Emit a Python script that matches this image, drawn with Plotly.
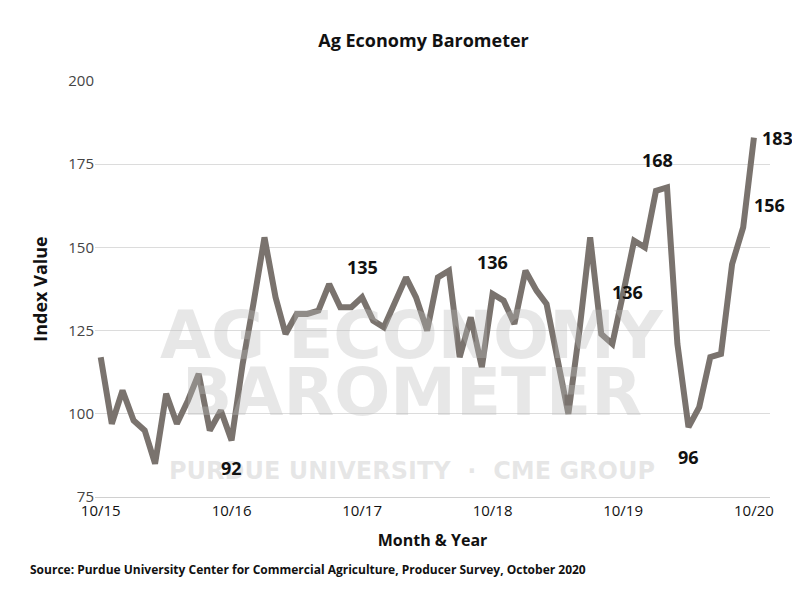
import pandas as pd
import plotly.graph_objects as go

# monthly index values, Oct 2015 - Oct 2020
months = pd.date_range("2015-10-01", "2020-10-01", freq="MS")
index_value = [117, 97, 107, 98, 95, 85, 106, 97, 104, 112, 95, 101,
               92, 115, 133, 153, 135, 124, 130, 130, 131, 139, 132, 132,
               135, 128, 126, 133, 141, 135, 125, 141, 143, 117, 129, 114,
               136, 134, 127, 143, 137, 133, 117, 100, 125, 153, 124, 121,
               136, 152, 150, 167, 168, 121, 96, 102, 117, 118, 145, 156,
               183]
tick_dates = pd.date_range("2015-10-01", "2020-10-01", freq="12MS")

# labelled points: (month index, text, x shift, y shift)
labels = [(12, "92", 0, -28), (24, "135", 0, 30), (36, "136", 0, 32),
          (48, "136", 4, 2), (52, "168", -10, 28), (54, "96", 0, -30),
          (59, "156", 26, 22), (60, "183", 24, 0)]

fig = go.Figure()
fig.add_trace(go.Scatter(x=months, y=index_value, mode="lines",
                         line=dict(color="#7a736e", width=6), hoverinfo="x+y"))

# watermark
for txt, yy, size in [("AG ECONOMY", 0.29, 66), ("BAROMETER", 0.155, 66),
                      ("PURDUE UNIVERSITY  ·  CME GROUP", 0.025, 24)]:
    fig.add_annotation(x=0.47, y=yy, xref="paper", yref="paper", text=txt,
                       showarrow=False, font=dict(size=size, color="rgba(185,185,185,0.35)",
                                                  family="DejaVu Sans", weight="bold"))

for i, txt, dx, dy in labels:
    fig.add_annotation(x=months[i], y=index_value[i], text=txt, showarrow=False,
                       xshift=dx, yshift=dy,
                       font=dict(size=18, color="#111", family="Open Sans", weight="bold"))

fig.add_annotation(x=-0.1, y=-0.2, xref="paper", yref="paper", xanchor="left",
                   text="Source: Purdue University Center for Commercial Agriculture, Producer Survey, October 2020",
                   showarrow=False, font=dict(size=12, color="#111", family="Open Sans", weight="bold"))

fig.update_layout(
    width=784, height=584, plot_bgcolor="white", paper_bgcolor="white",
    margin=dict(l=87, r=22, t=73, b=95),
    title=dict(text="Ag Economy Barometer", x=0.53, y=0.955,
               font=dict(size=18, color="#111", family="Open Sans", weight="bold")),
    showlegend=False,
    font=dict(family="Open Sans", color="#111"),
)
fig.update_xaxes(range=[pd.Timestamp("2015-09-15"), pd.Timestamp("2020-11-15")],
                 tickvals=tick_dates, tickformat="%m/%y", showgrid=False, automargin=False,
                 showline=True, linecolor="#d0d0d0", ticks="",
                 tickfont=dict(size=15, color="#111"),
                 title=dict(text="Month & Year", font=dict(size=16, color="#111", weight="bold")))
fig.update_yaxes(range=[75, 200], dtick=25, gridcolor="#dcdcdc", zeroline=False, automargin=False,
                 tickfont=dict(size=15, color="#444"),
                 title=dict(text="Index Value", font=dict(size=18, color="#111", weight="bold")))

fig.write_html("out.html")
